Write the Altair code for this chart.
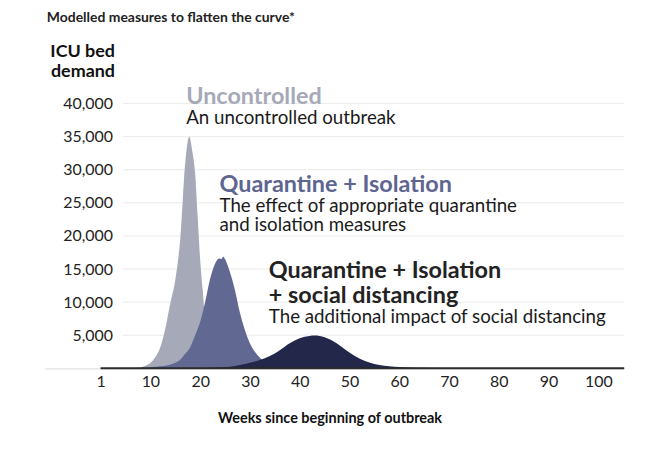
import altair as alt
import pandas as pd

# ---- data ----
weeks_uncontrolled = [0, 6, 7, 8, 9, 10, 11, 12, 13, 14, 15, 16, 17, 17.8, 18.5, 19, 19.5, 20, 20.5, 21,
                      22, 23, 24, 25, 26, 27, 28, 30, 32]
icu_uncontrolled = [0, 0, 50, 150, 400, 800, 1700, 3200, 6000, 9800, 13300, 19500, 31000, 35000, 32500,
                    29500, 23000, 16500, 12000, 7500, 4000, 2300, 1300, 700, 350, 180, 90, 20, 0]

weeks_quarantine = [0, 7, 8, 10, 12, 14, 16, 17, 18, 19, 20, 21, 22, 23, 23.8, 24.3, 24.6, 25, 25.5, 26,
                    27, 28, 29, 30, 31, 32, 33, 34, 36, 38, 40, 42]
icu_quarantine = [0, 0, 50, 150, 300, 600, 1300, 2200, 3200, 5000, 7000, 10000, 13500, 15800, 16600, 16500,
                  16900, 16500, 15600, 14500, 11800, 8400, 5800, 3800, 2500, 1600, 1000, 600, 250, 100, 30, 0]

weeks_distancing = [0, 10, 15, 20, 24, 26, 28, 30, 32, 34, 36, 38, 40, 42, 43, 44, 46, 48, 50, 52,
                    54, 56, 58, 60, 62, 65, 70, 75, 80]
icu_distancing = [0, 0, 20, 60, 150, 250, 500, 850, 1250, 1850, 2750, 3800, 4550, 4900, 4950, 4900, 4400,
                  3500, 2400, 1500, 900, 500, 300, 200, 130, 80, 30, 10, 0]

x_ticks = [0, 10, 20, 30, 40, 50, 60, 70, 80, 90, 100]
y_ticks = [5000, 10000, 15000, 20000, 25000, 30000, 35000, 40000]

head_text = ["Uncontrolled", "Quarantine + Isolation", "Quarantine + Isolation", "+ social distancing"]
head_week = [17.2, 23.9, 33.8, 33.8]
head_icu = [39950, 26700, 13670, 9920]
head_colour = ["#a6a9b8", "#5e6591", "#222222", "#222222"]

desc_text = ["An uncontrolled outbreak", "The effect of appropriate quarantine", "and isolation measures",
             "The additional impact of social distancing"]
desc_week = [17.2, 23.9, 23.9, 33.8]
desc_icu = [36950, 23680, 20680, 6920]

series_colours = ["#a6a9b8", "#616993", "#23284a"]

FONT = "Lato"
X_MIN, X_MAX = -11.2, 105.2

X_ENC = alt.X(
    "week:Q",
    scale=alt.Scale(domain=[X_MIN, X_MAX], nice=False, zero=False),
    axis=alt.Axis(values=x_ticks, labelExpr="datum.value == 0 ? '1' : datum.label",
                  title="Weeks since beginning of outbreak", grid=False, ticks=False,
                  domainColor="#dcdcdc", domainWidth=1, labelFontSize=16, labelPadding=5,
                  labelColor="#222222", labelFont=FONT,
                  titleFont=FONT, titleFontSize=14.5, titleFontWeight="bold", titleColor="#111111",
                  titleX=286, titleY=54, titleBaseline="alphabetic"),
)
Y_ENC = alt.Y(
    "icu:Q",
    scale=alt.Scale(domain=[0, 40000], nice=False),
    axis=alt.Axis(values=y_ticks, format=",d", grid=False, ticks=False, domain=False,
                  labelPadding=-68, labelFontSize=16, labelColor="#222222", labelFont=FONT,
                  title=["ICU bed", "demand"], titleAngle=0, titleAlign="right",
                  titleBaseline="alphabetic", titleX=70, titleY=-47, titleFont=FONT,
                  titleFontSize=18, titleFontWeight="bold", titleColor="#111111", titleLineHeight=20),
)

grid_df = pd.DataFrame({"icu": y_ticks, "week": [4.5] * len(y_ticks), "week_end": [X_MAX] * len(y_ticks)})
grid = alt.Chart(grid_df).mark_rule(color="#ebebeb", strokeWidth=1).encode(
    x=X_ENC, x2="week_end:Q", y=Y_ENC)

areas = []
for wk, val, col in [(weeks_uncontrolled, icu_uncontrolled, series_colours[0]),
                     (weeks_quarantine, icu_quarantine, series_colours[1]),
                     (weeks_distancing, icu_distancing, series_colours[2])]:
    df = pd.DataFrame({"week": wk, "icu": val})
    areas.append(alt.Chart(df).mark_area(color=col, interpolate="monotone").encode(x=X_ENC, y=Y_ENC))

base_df = pd.DataFrame({"week": [0], "week_end": [X_MAX], "icu": [0]})
base = alt.Chart(base_df).mark_rule(color="#2a2a2a", strokeWidth=2).encode(
    x=X_ENC, x2="week_end:Q", y=Y_ENC)

heads_df = pd.DataFrame({"week": head_week, "icu": head_icu, "label": head_text, "colour": head_colour})
heads = alt.Chart(heads_df).mark_text(align="left", baseline="alphabetic", font=FONT,
                                      fontWeight="bold", fontSize=23.5).encode(
    x=X_ENC, y=Y_ENC, text="label:N", color=alt.Color("colour:N", scale=None))

desc_df = pd.DataFrame({"week": desc_week, "icu": desc_icu, "label": desc_text})
descs = alt.Chart(desc_df).mark_text(align="left", baseline="alphabetic", font=FONT,
                                     fontSize=18.8, color="#1a1a1a").encode(
    x=X_ENC, y=Y_ENC, text="label:N")

chart = alt.layer(grid, *areas, base, heads, descs).properties(
    width=582, height=266,
    title=alt.TitleParams("Modelled measures to flatten the curve*", anchor="start", frame="group",
                          offset=18, fontSize=14, font=FONT, fontWeight="bold", color="#222222", dx=2),
    autosize=alt.AutoSizeParams(type="none"),
    padding={"left": 37, "top": 95, "right": 40, "bottom": 75},
).configure_view(stroke=None)

chart.save("out.html", embed_options={"renderer": "svg", "actions": False})
